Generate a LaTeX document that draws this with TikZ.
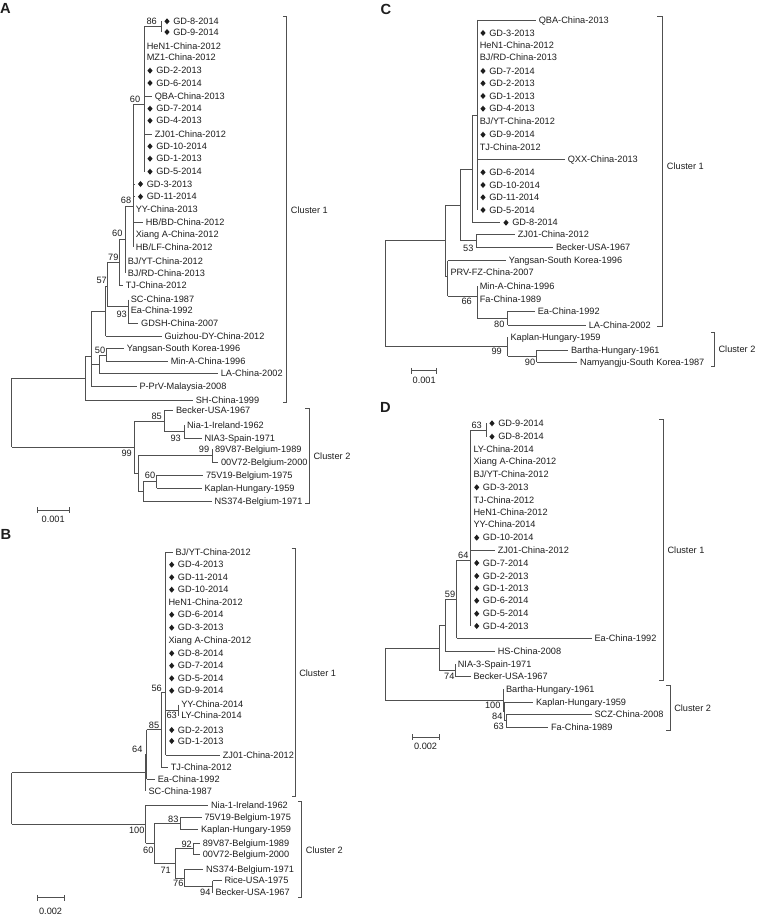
\documentclass[tikz,border=0pt]{standalone}
\usepackage{fontspec}
\setmainfont{Liberation Sans}
\usetikzlibrary{shapes.geometric}
\definecolor{txt}{HTML}{1E1E1E}
\definecolor{ln}{HTML}{505050}
\newcommand\labfont{\fontsize{6.9}{8}\selectfont}
\tikzset{
  br/.style={draw=ln, line width=0.5pt},
  lbl/.style={anchor=west, inner sep=0pt, font=\labfont, text=txt, text height=4.9pt, text depth=0pt},
  bs/.style={inner sep=0pt, font=\labfont, text=txt, text height=4.9pt, text depth=0pt},
  dia/.style={diamond, fill=txt, draw=none, inner sep=0pt, minimum width=4pt, minimum height=4.7pt},
  panel/.style={inner sep=0pt, font=\bfseries\fontsize{11}{12}\selectfont, text=txt},
}
% internal node coordinate
\newcommand\tInn[3]{\coordinate (#1) at (#2,#3);}
% horizontal branch from parent #1 to child #2
\newcommand\tCh[2]{\draw[br] (#1 |- #2) -- (#2);}
% vertical line of parent #1 spanning children #2..#3
\newcommand\tVt[3]{\draw[br] (#1 |- #2) -- (#1 |- #3);}
% plain leaf: id, parent, x of branch end, y, text
\newcommand\tLv[5]{\coordinate (#1) at (#3,#4);
  \draw[br] (#2 |- #1) -- (#1);
  \node[lbl] (#1t) at ([xshift=1.9pt]#1) {#5};}
% leaf with diamond marker
\newcommand\tLd[5]{\coordinate (#1) at (#3,#4);
  \draw[br] (#2 |- #1) -- (#1);
  \node[dia] (#1d) at ([xshift=4.5pt]#1) {};
  \node[lbl] (#1t) at ([xshift=9pt]#1) {#5};}
% cluster bracket: id, x left, x right, y top, y bottom, text, y text
\newcommand\tBrk[7]{\coordinate (#1a) at (#2,#4); \coordinate (#1b) at (#3,#4);
  \coordinate (#1c) at (#3,#5); \coordinate (#1d) at (#2,#5);
  \draw[br] (#1a) -- (#1b) -- (#1c) -- (#1d);
  \node[lbl] (#1t) at ([xshift=3pt]#3,#7) {#6};}
% scale bar: id, x1, x2, y, text, y text, x centre
\newcommand\tScl[7]{\coordinate (#1l) at (#2,#4); \coordinate (#1r) at (#3,#4);
  \draw[br] (#1l) -- (#1r);
  \draw[br] ([yshift=2.2pt]#1l) -- ([yshift=-2.2pt]#1l);
  \draw[br] ([yshift=2.2pt]#1r) -- ([yshift=-2.2pt]#1r);
  \node[bs] (#1t) at (#7,#6) {#5};}
\begin{document}
\begin{tikzpicture}[x=0.75pt,y=-0.75pt]
\fill[white] (0,0) rectangle (757,917);
\useasboundingbox (0,0) rectangle (757,917);

% ================= PANEL A =================
\node[panel] (pA) at (5.5,8.5) {A};
\tInn{a86}{161}{26.7}
\tInn{aP}{144}{104}
\tInn{a68}{133}{206}
\tInn{a60b}{125}{239}
\tInn{a79}{119}{262}
\tInn{a57}{107}{286}
\tInn{a93}{128}{306}
\tInn{aG}{105.5}{311}
\tInn{a50}{106}{355}
\tInn{aM}{99}{364}
\tInn{aQ}{91.7}{356}
\tInn{aC1}{85}{378}
\tInn{a93c}{184.3}{431.5}
\tInn{a85}{164.3}{421}
\tInn{a99c}{212.3}{455.5}
\tInn{a60c}{156.7}{481.8}
\tInn{aNS}{143.3}{491.4}
\tInn{aX}{138.3}{473.5}
\tInn{a99}{134.3}{447.3}
\tInn{aR}{11.7}{412}

\tLd{a1}{a86}{161}{21.3}{GD-8-2014}
\tLd{a2}{a86}{161}{32}{GD-9-2014}
\tLv{a3}{aP}{144}{46.7}{HeN1-China-2012}
\tLv{a4}{aP}{144}{57.3}{MZ1-China-2012}
\tLd{a5}{aP}{144}{70.7}{GD-2-2013}
\tLd{a6}{aP}{144}{83}{GD-6-2014}
\tLv{a7}{aP}{152}{96}{QBA-China-2013}
\tLd{a8}{aP}{144}{108.7}{GD-7-2014}
\tLd{a9}{aP}{144}{120.7}{GD-4-2013}
\tLv{a10}{aP}{152}{134.3}{ZJ01-China-2012}
\tLd{a11}{aP}{144}{146.3}{GD-10-2014}
\tLd{a12}{aP}{144}{158.7}{GD-1-2013}
\tLd{a13}{aP}{144}{171.7}{GD-5-2014}
\tLd{a14}{a68}{134.5}{184}{GD-3-2013}
\tLd{a15}{a68}{134.5}{196.7}{GD-11-2014}
\tLv{a16}{a68}{133}{209.3}{YY-China-2013}
\tLv{a17}{a68}{143}{222.7}{HB/BD-China-2012}
\tLv{a18}{a68}{133}{234.7}{Xiang A-China-2012}
\tLv{a19}{a68}{133}{247.3}{HB/LF-China-2012}
\tLv{a20}{a60b}{125}{261.3}{BJ/YT-China-2012}
\tLv{a21}{a60b}{125}{273}{BJ/RD-China-2013}
\tLv{a22}{a79}{123}{285.7}{TJ-China-2012}
\tLv{a23}{a93}{128}{299.7}{SC-China-1987}
\tLv{a24}{a93}{128}{310.3}{Ea-China-1992}
\tLv{a25}{a93}{138.3}{323.3}{GDSH-China-2007}
\tLv{a26}{aG}{161.7}{336}{Guizhou-DY-China-2012}
\tLv{a27}{a50}{124}{348.7}{Yangsan-South Korea-1996}
\tLv{a28}{a50}{168}{361.7}{Min-A-China-1996}
\tLv{a29}{aM}{218}{373.7}{LA-China-2002}
\tLv{a30}{aQ}{136.7}{386.7}{P-PrV-Malaysia-2008}
\tLv{a31}{aC1}{193}{400}{SH-China-1999}
\tLv{a32}{a85}{173.3}{410.7}{Becker-USA-1967}
\tLv{a33}{a93c}{184.3}{425}{Nia-1-Ireland-1962}
\tLv{a34}{a93c}{201.7}{438}{NIA3-Spain-1971}
\tLv{a35}{a99c}{212.3}{449}{89V87-Belgium-1989}
\tLv{a36}{a99c}{218.3}{462}{00V72-Belgium-2000}
\tLv{a37}{a60c}{203.3}{475.3}{75V19-Belgium-1975}
\tLv{a38}{a60c}{201.7}{488.3}{Kaplan-Hungary-1959}
\tLv{a39}{aNS}{211.7}{501}{NS374-Belgium-1971}

\tCh{aP}{a86} \tVt{a86}{a1}{a2}
\tVt{aP}{a86}{a13}
\tCh{a68}{aP} \tVt{a68}{aP}{a19}
\tCh{a60b}{a68} \tVt{a60b}{a68}{a21}
\tCh{a79}{a60b} \tVt{a79}{a60b}{a22}
\tVt{a93}{a23}{a25}
\tCh{a57}{a79} \tCh{a57}{a93} \tVt{a57}{a79}{a93}
\tCh{aG}{a57} \tVt{aG}{a57}{a26}
\tVt{a50}{a27}{a28}
\tCh{aM}{a50} \tVt{aM}{a50}{a29}
\tCh{aQ}{aG} \tCh{aQ}{aM} \tVt{aQ}{aG}{a30}
\tCh{aC1}{aQ} \tVt{aC1}{aQ}{a31}
\tCh{aR}{aC1} \tCh{aR}{a99} \tVt{aR}{aC1}{a99}
\tVt{a93c}{a33}{a34}
\tCh{a85}{a93c} \tVt{a85}{a32}{a93c}
\tVt{a99c}{a35}{a36}
\tVt{a60c}{a37}{a38}
\tCh{aNS}{a60c} \tVt{aNS}{a60c}{a39}
\tCh{aX}{a99c} \tCh{aX}{aNS} \tVt{aX}{a99c}{aNS}
\tCh{a99}{a85} \tCh{a99}{aX} \tVt{a99}{a85}{aX}

\node[bs] (ab1) at (151.7,21.3) {86};
\node[bs] (ab2) at (135,99.5) {60};
\node[bs] (ab3) at (126,200) {68};
\node[bs] (ab4) at (117.3,233.3) {60};
\node[bs] (ab5) at (113.3,257.3) {79};
\node[bs] (ab6) at (101.7,280.7) {57};
\node[bs] (ab7) at (121.7,314) {93};
\node[bs] (ab8) at (100,350.7) {50};
\node[bs] (ab9) at (156.7,416.7) {85};
\node[bs] (ab10) at (175.7,438) {93};
\node[bs] (ab11) at (204,449) {99};
\node[bs] (ab12) at (126.7,453.3) {99};
\node[bs] (ab13) at (150,475.7) {60};

\tBrk{aK1}{283}{286.7}{16.7}{402.7}{Cluster 1}{210.7}
\tBrk{aK2}{305}{309.3}{408.3}{503.3}{Cluster 2}{456.7}
\tScl{aS}{37}{69.3}{510}{0.001}{519}{53.2}

% ================= PANEL B =================
\node[panel] (pB) at (6,534) {B};
\tInn{bP}{165.7}{692}
\tInn{b63}{178.5}{710.2}
\tInn{b85}{161}{729.7}
\tInn{b64}{146.5}{754.3}
\tInn{bC1}{145.7}{772.8}
\tInn{bC2}{145.7}{824.2}
\tInn{b60}{154.3}{843.3}
\tInn{b83}{180}{823.2}
\tInn{b71}{175}{863.3}
\tInn{b92}{193.3}{848.7}
\tInn{b76}{184.3}{878}
\tInn{b94}{212.7}{886.7}
\tInn{bR}{11.7}{800}

\tLv{b1}{bP}{172.7}{552}{BJ/YT-China-2012}
\tLd{b2}{bP}{165.7}{564.7}{GD-4-2013}
\tLd{b3}{bP}{165.7}{577.3}{GD-11-2014}
\tLd{b4}{bP}{165.7}{589.7}{GD-10-2014}
\tLv{b5}{bP}{165.7}{602.3}{HeN1-China-2012}
\tLd{b6}{bP}{165.7}{614.7}{GD-6-2014}
\tLd{b7}{bP}{165.7}{627.7}{GD-3-2013}
\tLv{b8}{bP}{165.7}{640.7}{Xiang A-China-2012}
\tLd{b9}{bP}{165.7}{653.3}{GD-8-2014}
\tLd{b10}{bP}{165.7}{665.7}{GD-7-2014}
\tLd{b11}{bP}{165.7}{678.3}{GD-5-2014}
\tLd{b12}{bP}{165.7}{690.7}{GD-9-2014}
\tLv{b13}{b63}{178.5}{704.7}{YY-China-2014}
\tLv{b14}{b63}{178.5}{715.7}{LY-China-2014}
\tLd{b15}{bP}{165.7}{730}{GD-2-2013}
\tLd{b16}{bP}{165.7}{741}{GD-1-2013}
\tLv{b17}{bP}{220}{755}{ZJ01-China-2012}
\tLv{b18}{b85}{168}{767.3}{TJ-China-2012}
\tLv{b19}{b64}{155}{779}{Ea-China-1992}
\tLv{b20}{bC1}{145.7}{791.3}{SC-China-1987}
\tLv{b21}{bC2}{208.3}{805}{Nia-1-Ireland-1962}
\tLv{b22}{b83}{201.7}{817}{75V19-Belgium-1975}
\tLv{b23}{b83}{198.3}{829.3}{Kaplan-Hungary-1959}
\tLv{b24}{b92}{200}{843.3}{89V87-Belgium-1989}
\tLv{b25}{b92}{200}{854}{00V72-Belgium-2000}
\tLv{b26}{b76}{203.3}{869.3}{NS374-Belgium-1971}
\tLv{b27}{b94}{221.7}{880.7}{Rice-USA-1975}
\tLv{b28}{b94}{212.7}{892.7}{Becker-USA-1967}

\tVt{bP}{b1}{b17} \tCh{bP}{b63} \tVt{b63}{b13}{b14}
\tCh{b85}{bP} \tVt{b85}{bP}{b18}
\tCh{b64}{b85} \tVt{b64}{b85}{b19}
\tCh{bC1}{b64} \tVt{bC1}{b64}{b20}
\tCh{bR}{bC1} \tCh{bR}{bC2} \tVt{bR}{bC1}{bC2}
\tCh{bC2}{b60} \tVt{bC2}{b21}{b60}
\tCh{b60}{b83} \tCh{b60}{b71} \tVt{b60}{b83}{b71}
\tVt{b83}{b22}{b23}
\tCh{b71}{b92} \tCh{b71}{b76} \tVt{b71}{b92}{b76}
\tVt{b92}{b24}{b25}
\tCh{b76}{b94} \tVt{b76}{b26}{b94}
\tVt{b94}{b27}{b28}

\node[bs] (bb1) at (156.7,688.3) {56};
\node[bs] (bb2) at (171.7,715.7) {63};
\node[bs] (bb3) at (154,725) {85};
\node[bs] (bb4) at (137.3,749.3) {64};
\node[bs] (bb5) at (136.7,830.7) {100};
\node[bs] (bb6) at (173.3,819) {83};
\node[bs] (bb7) at (186.7,844) {92};
\node[bs] (bb8) at (148.3,850) {60};
\node[bs] (bb9) at (165.7,870) {71};
\node[bs] (bb10) at (178.3,883.3) {76};
\node[bs] (bb11) at (205.3,892.7) {94};

\tBrk{bK1}{291.7}{295}{548.3}{796}{Cluster 1}{672.8}
\tBrk{bK2}{298.3}{301.7}{801.7}{897.3}{Cluster 2}{850}
\tScl{bS}{37.3}{64}{897.7}{0.002}{911}{50.6}

% ================= PANEL C =================
\node[panel] (pC) at (386,9) {C};
\tInn{cP}{477}{115.1}
\tInn{cN}{472.7}{168.9}
\tInn{c53}{476}{240.8}
\tInn{cMid}{460}{204.9}
\tInn{c80}{507.7}{318}
\tInn{c66}{477}{296}
\tInn{cX}{447.7}{276.5}
\tInn{cBig}{445}{240.7}
\tInn{c90}{536.7}{356.2}
\tInn{c99}{507.7}{346.7}
\tInn{cR}{385}{290}

\tLv{c1}{cP}{536}{20}{QBA-China-2013}
\tLd{c2}{cP}{477}{33}{GD-3-2013}
\tLv{c3}{cP}{477}{45.7}{HeN1-China-2012}
\tLv{c4}{cP}{477}{57.7}{BJ/RD-China-2013}
\tLd{c5}{cP}{477}{71}{GD-7-2014}
\tLd{c6}{cP}{477}{83.3}{GD-2-2013}
\tLd{c7}{cP}{477}{96}{GD-1-2013}
\tLd{c8}{cP}{477}{108.7}{GD-4-2013}
\tLv{c9}{cP}{477}{121.3}{BJ/YT-China-2012}
\tLd{c10}{cP}{477}{134.7}{GD-9-2014}
\tLv{c11}{cP}{477}{147}{TJ-China-2012}
\tLv{c12}{cP}{565}{159.3}{QXX-China-2013}
\tLd{c13}{cP}{477}{172.3}{GD-6-2014}
\tLd{c14}{cP}{477}{185}{GD-10-2014}
\tLd{c15}{cP}{477}{197.3}{GD-11-2014}
\tLd{c16}{cP}{477}{210}{GD-5-2014}
\tLd{c17}{cN}{500}{222.7}{GD-8-2014}
\tLv{c18}{c53}{515}{234.3}{ZJ01-China-2012}
\tLv{c19}{c53}{553.3}{247.3}{Becker-USA-1967}
\tLv{c20}{cX}{506}{260.7}{Yangsan-South Korea-1996}
\tLv{c21}{cX}{447.7}{272.7}{PRV-FZ-China-2007}
\tLv{c22}{c66}{477}{286}{Min-A-China-1996}
\tLv{c23}{c66}{477}{299}{Fa-China-1989}
\tLv{c24}{c80}{535}{311}{Ea-China-1992}
\tLv{c25}{c80}{586}{325}{LA-China-2002}
\tLv{c26}{c99}{507.7}{337.3}{Kaplan-Hungary-1959}
\tLv{c27}{c90}{568.3}{350}{Bartha-Hungary-1961}
\tLv{c28}{c90}{577.3}{362.3}{Namyangju-South Korea-1987}

\tVt{cP}{c1}{c16}
\tCh{cN}{cP} \tVt{cN}{cP}{c17}
\tVt{c53}{c18}{c19}
\tCh{cMid}{cN} \tCh{cMid}{c53} \tVt{cMid}{cN}{c53}
\tVt{c80}{c24}{c25}
\tCh{c66}{c80} \tVt{c66}{c22}{c80}
\tCh{cX}{c66} \tVt{cX}{c20}{c66}
\tCh{cBig}{cMid} \tCh{cBig}{cX} \tVt{cBig}{cMid}{cX}
\tVt{c90}{c27}{c28}
\tCh{c99}{c90} \tVt{c99}{c26}{c90}
\tCh{cR}{cBig} \tCh{cR}{c99} \tVt{cR}{cBig}{c99}

\node[bs] (cb1) at (468.3,248.3) {53};
\node[bs] (cb2) at (466.7,301.7) {66};
\node[bs] (cb3) at (499.3,324.3) {80};
\node[bs] (cb4) at (496.7,351.7) {99};
\node[bs] (cb5) at (530,362.7) {90};

\tBrk{cK1}{657.3}{662.7}{16}{326.7}{Cluster 1}{166.7}
\tBrk{cK2}{711}{714.3}{332.7}{366.7}{Cluster 2}{349}
\tScl{cS}{411.7}{436.7}{370.7}{0.001}{380}{424.2}

% ================= PANEL D =================
\node[panel] (pD) at (385.5,407) {D};
\tInn{d63}{486}{430}
\tInn{dP}{470.7}{560}
\tInn{d64}{456.7}{599.2}
\tInn{d59}{445}{625.4}
\tInn{d74}{455}{670.3}
\tInn{dD1}{439.3}{647.9}
\tInn{d63b}{506}{720.7}
\tInn{d84}{504.7}{711.3}
\tInn{d100}{503.3}{700.3}
\tInn{dR}{385}{670}

\tLd{d1}{d63}{486}{423.3}{GD-9-2014}
\tLd{d2}{d63}{486}{436.7}{GD-8-2014}
\tLv{d3}{dP}{470.7}{449}{LY-China-2014}
\tLv{d4}{dP}{470.7}{461.7}{Xiang A-China-2012}
\tLv{d5}{dP}{470.7}{474.7}{BJ/YT-China-2012}
\tLd{d6}{dP}{470.7}{487.3}{GD-3-2013}
\tLv{d7}{dP}{470.7}{500}{TJ-China-2012}
\tLv{d8}{dP}{470.7}{512.3}{HeN1-China-2012}
\tLv{d9}{dP}{470.7}{524.7}{YY-China-2014}
\tLd{d10}{dP}{470.7}{537.7}{GD-10-2014}
\tLv{d11}{dP}{495}{550}{ZJ01-China-2012}
\tLd{d12}{dP}{470.7}{563}{GD-7-2014}
\tLd{d13}{dP}{470.7}{576}{GD-2-2013}
\tLd{d14}{dP}{470.7}{588.3}{GD-1-2013}
\tLd{d15}{dP}{470.7}{600.7}{GD-6-2014}
\tLd{d16}{dP}{470.7}{613.7}{GD-5-2014}
\tLd{d17}{dP}{470.7}{626}{GD-4-2013}
\tLv{d18}{d64}{591.7}{638.3}{Ea-China-1992}
\tLv{d19}{d59}{495}{651.7}{HS-China-2008}
\tLv{d20}{d74}{455}{664}{NIA-3-Spain-1971}
\tLv{d21}{d74}{470.7}{676.7}{Becker-USA-1967}
\tLv{d22}{d100}{503.3}{689.3}{Bartha-Hungary-1961}
\tLv{d23}{d84}{533.3}{702}{Kaplan-Hungary-1959}
\tLv{d24}{d63b}{591.7}{714}{SCZ-China-2008}
\tLv{d25}{d63b}{548.3}{727.3}{Fa-China-1989}

\tVt{d63}{d1}{d2}
\tCh{dP}{d63} \tVt{dP}{d63}{d17}
\tCh{d64}{dP} \tVt{d64}{dP}{d18}
\tCh{d59}{d64} \tVt{d59}{d64}{d19}
\tVt{d74}{d20}{d21}
\tCh{dD1}{d59} \tCh{dD1}{d74} \tVt{dD1}{d59}{d74}
\tVt{d63b}{d24}{d25}
\tCh{d84}{d63b} \tVt{d84}{d23}{d63b}
\tCh{d100}{d84} \tVt{d100}{d22}{d84}
\tCh{dR}{dD1} \tCh{dR}{d100} \tVt{dR}{dD1}{d100}

\node[bs] (db1) at (476.7,425) {63};
\node[bs] (db2) at (463.3,555) {64};
\node[bs] (db3) at (450,594) {59};
\node[bs] (db4) at (449.3,676.7) {74};
\node[bs] (db5) at (492.7,705.7) {100};
\node[bs] (db6) at (497.3,716) {84};
\node[bs] (db7) at (498.7,726) {63};

\tBrk{dK1}{659.3}{663.3}{419.3}{680}{Cluster 1}{550}
\tBrk{dK2}{666}{670}{685}{730.7}{Cluster 2}{708.3}
\tScl{dS}{412.3}{439}{737.3}{0.002}{746}{425.6}
\end{tikzpicture}
\end{document}
